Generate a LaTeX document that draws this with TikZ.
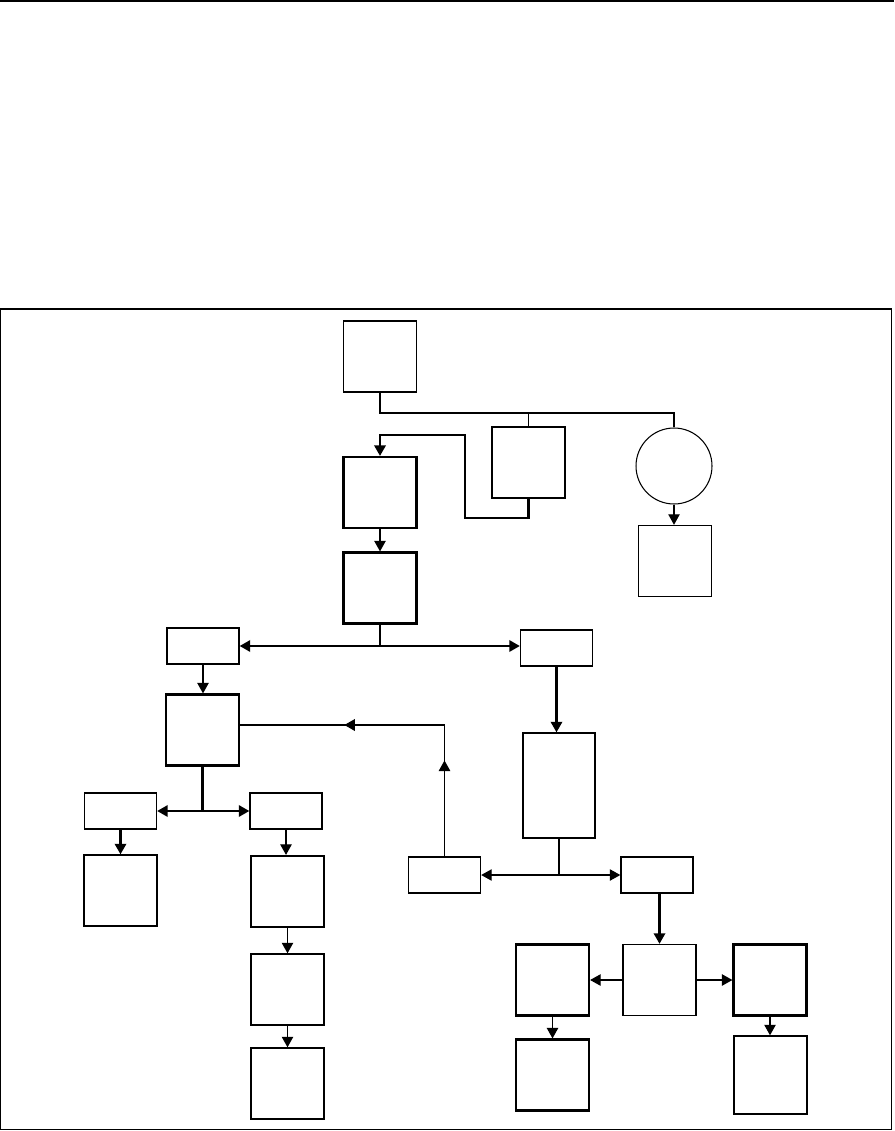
\documentclass[tikz,border=0pt]{standalone}
\usetikzlibrary{arrows.meta,decorations.markings}
\begin{document}
\begin{tikzpicture}[x=0.02cm,y=-0.02cm,
  >={Triangle[length=6pt,width=6.5pt]},
  box/.style={draw,inner sep=0pt,minimum width=1.46cm,minimum height=1.42cm,line width=0.8pt},
  slim/.style={draw,inner sep=0pt,minimum width=1.44cm,minimum height=0.72cm,line width=0.8pt},
  bold/.style={line width=1.25pt},
  wire/.style={line width=0.7pt},
  heavy/.style={line width=1.2pt},
  midtip/.style={postaction={decorate},decoration={markings,mark=at position #1 with {\arrow{>}}}}]
  \useasboundingbox (0,0) rectangle (894,1131);
  \draw[line width=1.4pt] (0,1.2) -- (894,1.2);
  \draw[line width=0.6pt] (0.5,309) rectangle (891.5,1129.5);

  \node[box] (A) at (380,356.5) {};
  \node[box,bold] (B) at (528.5,462.5) {};
  \node[box,bold] (C) at (380,492.5) {};
  \node[box,bold] (D) at (380,588) {};
  \node[draw,circle,inner sep=0pt,minimum size=1.52cm,line width=0.6pt] (circ) at (674,466) {};
  \node[box] (E) at (675,561) {};
  \node[slim] (F) at (203,646) {};
  \node[slim] (G) at (556.5,648) {};
  \node[box,bold] (H) at (202.5,730) {};
  \node[slim] (J) at (120.5,811) {};
  \node[slim] (K) at (286,811) {};
  \node[box] (O) at (120.5,890.5) {};
  \node[box,bold] (P) at (287.5,891.5) {};
  \node[box] (Q) at (287.5,989.5) {};
  \node[box] (R) at (287.5,1083.5) {};
  \node[slim,minimum height=2.1cm] (L) at (559,785.5) {};
  \node[slim] (M) at (444.5,875) {};
  \node[slim] (N) at (657,875) {};
  \node[box] (S) at (659.5,980) {};
  \node[box,bold] (T) at (552.5,980) {};
  \node[box,bold] (U) at (770,980) {};
  \node[box,bold] (V) at (552.5,1075) {};
  \node[box,minimum height=1.56cm] (W) at (770.5,1075) {};

  \coordinate (busR) at (674,413);
  \coordinate (loopR) at (528.5,518);
  \coordinate (loopL) at (465,435);
  \coordinate (fork1) at (380,646);
  \coordinate (fork2) at (202.5,811);
  \coordinate (fork3) at (559,875);
  \coordinate (bend) at (444.5,725);

  \draw[heavy] (A.south) |- (busR) -- (circ.north);
  \draw[wire] (B.north) -- (B.north |- busR);
  \draw[heavy,->] (B.south) -- (loopR) -| (loopL) -| (C.north);
  \draw[wire,->] (C.south) -- (D.north);
  \draw[wire,->] (circ.south) -- (circ.south |- E.north);
  \draw[wire] (D.south) -- (fork1);
  \draw[heavy,<->] (F.east) -- (F.east -| G.west);
  \draw[wire,->] (F.south) -- (F.south |- H.north);
  \draw[heavy] (H.south) -- (fork2);
  \draw[heavy,<->] (J.east) -- (K.west);
  \draw[heavy,->] (J.south) -- (J.south |- O.north);
  \draw[wire,->] (K.south) -- (K.south |- P.north);
  \draw[wire,->] (P.south) -- (Q.north);
  \draw[wire,->] (Q.south) -- (R.north);
  \draw[heavy,->] (G.south) -- (G.south |- L.north);
  \draw[wire] (L.south) -- (fork3);
  \draw[wire,<->] (M.east) -- (N.west);
  \draw[wire,midtip=0.73] (M.north) -- (bend);
  \draw[heavy,midtip=0.49] (bend) -- (H.east |- bend);
  \draw[heavy,->] (N.south -| S.north) -- (S.north);
  \draw[wire,->] (S.west) -- (T.east);
  \draw[wire,->] (S.east) -- (U.west);
  \draw[wire,->] (T.south) -- (V.north);
  \draw[wire,->] (U.south) -- (U.south |- W.north);
\end{tikzpicture}
\end{document}
